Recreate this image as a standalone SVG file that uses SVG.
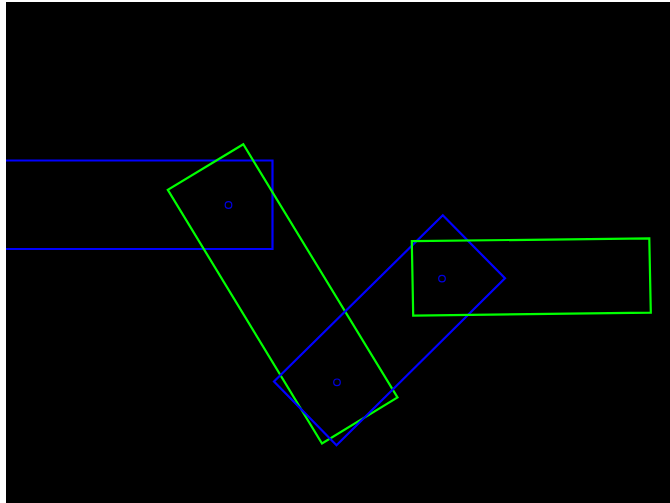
<svg xmlns="http://www.w3.org/2000/svg" width="670" height="503" viewBox="0 0 670 503">
<style>
.b{fill:none;stroke:#0000ff;stroke-width:2.2}
.g{fill:none;stroke:#00ff00;stroke-width:2.2}
.c{fill:none;stroke:#0000e0;stroke-width:1.2}
</style>
<rect x="0" y="0" width="670" height="503" fill="#ffffff"/>
<rect x="6" y="2" width="664" height="501" fill="#000000"/>
<g id="blue-rect-1"><polyline class="b" points="6,160.5 272.5,160.5 272.5,249 6,249"/></g>
<g id="green-rect-1"><polygon class="g" points="243.3,144.3 167.8,189.8 322,443.5 397.5,397.5"/></g>
<g id="blue-rect-2"><polygon class="b" points="442.8,215.2 505,278.3 336.5,445.2 274,381.5"/></g>
<g id="green-rect-2"><polygon class="g" points="411.8,241.2 649.3,238.3 650.8,312.6 413.2,315.6"/></g>
<g id="centers">
<circle class="c" cx="228.5" cy="205" r="3.3"/>
<circle class="c" cx="337" cy="382.3" r="3.3"/>
<circle class="c" cx="442" cy="278.6" r="3.3"/>
</g>
<g id="connectors"/>
</svg>
